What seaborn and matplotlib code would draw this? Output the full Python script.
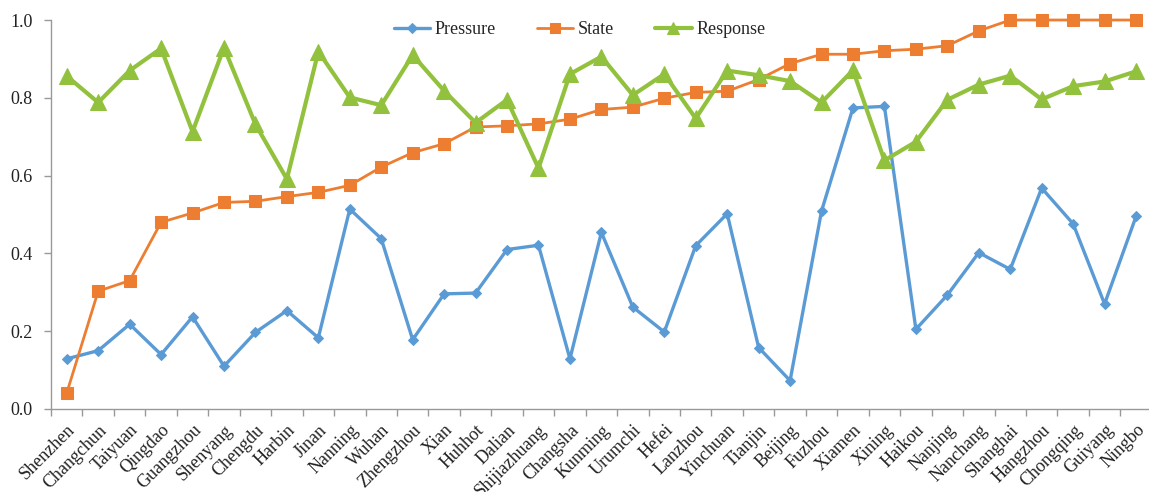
import numpy as np
import pandas as pd
import matplotlib
matplotlib.use("Agg")
import matplotlib.pyplot as plt
import seaborn as sns
from matplotlib.ticker import FormatStrFormatter, FixedLocator

cities = ["Shenzhen", "Changchun", "Taiyuan", "Qingdao", "Guangzhou", "Shenyang",
          "Chengdu", "Harbin", "Jinan", "Nanning", "Wuhan", "Zhengzhou", "Xian",
          "Huhhot", "Dalian", "Shijiazhuang", "Changsha", "Kunming", "Urumchi",
          "Hefei", "Lanzhou", "Yinchuan", "Tianjin", "Beijing", "Fuzhou", "Xiamen",
          "Xining", "Haikou", "Nanjing", "Nanchang", "Shanghai", "Hangzhou",
          "Chongqing", "Guiyang", "Ningbo"]

pressure = [0.129, 0.150, 0.218, 0.140, 0.237, 0.110, 0.197, 0.253, 0.183, 0.514,
            0.438, 0.178, 0.296, 0.298, 0.410, 0.421, 0.129, 0.454, 0.262, 0.198,
            0.420, 0.502, 0.158, 0.073, 0.509, 0.774, 0.778, 0.205, 0.293, 0.402,
            0.359, 0.568, 0.476, 0.270, 0.495]

state = [0.041, 0.303, 0.330, 0.480, 0.504, 0.531, 0.534, 0.546, 0.557, 0.575,
         0.622, 0.659, 0.682, 0.725, 0.728, 0.733, 0.745, 0.770, 0.776, 0.799,
         0.814, 0.817, 0.847, 0.888, 0.912, 0.912, 0.921, 0.925, 0.934, 0.972,
         1.000, 1.000, 1.000, 1.000, 1.000]

response = [0.856, 0.788, 0.870, 0.927, 0.713, 0.929, 0.732, 0.591, 0.919, 0.801,
            0.781, 0.910, 0.818, 0.736, 0.795, 0.619, 0.861, 0.906, 0.807, 0.861,
            0.747, 0.870, 0.858, 0.843, 0.788, 0.871, 0.639, 0.687, 0.795, 0.834,
            0.857, 0.796, 0.830, 0.842, 0.868]

series_names = ["Pressure", "State", "Response"]
colors = {"Pressure": "#5B9BD5", "State": "#ED7D31", "Response": "#92C13E"}
markers = {"Pressure": "D", "State": "s", "Response": "^"}
msizes = {"Pressure": 5.5, "State": 8, "Response": 11}
legend_msizes = {"Pressure": 5, "State": 7, "Response": 8}
lwidths = {"Pressure": 2.4, "State": 2.0, "Response": 3.0}

idx = np.arange(len(cities))
df = pd.DataFrame({"pos": np.tile(idx, 3),
                   "value": pressure + state + response,
                   "series": np.repeat(series_names, len(cities))})

sns.set_theme(style="white")
plt.rcParams["font.family"] = ["Liberation Serif", "DejaVu Serif"]

fig = plt.figure(figsize=(11.49, 4.92), dpi=100)
ax = fig.add_axes([0.0444, 0.1687, 0.958, 0.7906])

for name in series_names:
    sub = df[df["series"] == name]
    sns.lineplot(data=sub, x="pos", y="value", ax=ax, color=colors[name],
                 marker=markers[name], markersize=msizes[name],
                 markeredgecolor=colors[name], linewidth=lwidths[name],
                 label=name, sort=False, clip_on=False)

ax.set_xlim(-0.5, len(cities) - 0.5)
ax.set_ylim(0, 1.0)
ax.set_xlabel("")
ax.set_ylabel("")

ax.set_xticks(idx)
ax.set_xticklabels(cities, rotation=45, ha="right", rotation_mode="anchor",
                   fontsize=13, color="#222222")
ax.xaxis.set_minor_locator(FixedLocator(np.arange(-0.5, len(cities), 1.0)))
ax.tick_params(axis="x", which="major", length=0, pad=9)
ax.tick_params(axis="x", which="minor", length=5, color="#999999", width=1,
               direction="out", bottom=True)

ax.set_yticks(np.arange(0, 1.01, 0.2))
ax.yaxis.set_major_formatter(FormatStrFormatter("%.1f"))
ax.tick_params(axis="y", length=5, color="#999999", width=1, direction="out",
               left=True, labelsize=13, labelcolor="#222222", pad=8)

for side in ["top", "right"]:
    ax.spines[side].set_visible(False)
for side in ["left", "bottom"]:
    ax.spines[side].set_color("#999999")
    ax.spines[side].set_linewidth(1)

leg = ax.legend(loc="center", bbox_to_anchor=(0.48, 0.975), ncol=3, frameon=False,
                fontsize=13, handlelength=2.0, columnspacing=2.3, handletextpad=0.25)
for handle, name in zip(leg.legend_handles, series_names):
    handle.set_markersize(legend_msizes[name])

fig.savefig("out.png", dpi=100)
